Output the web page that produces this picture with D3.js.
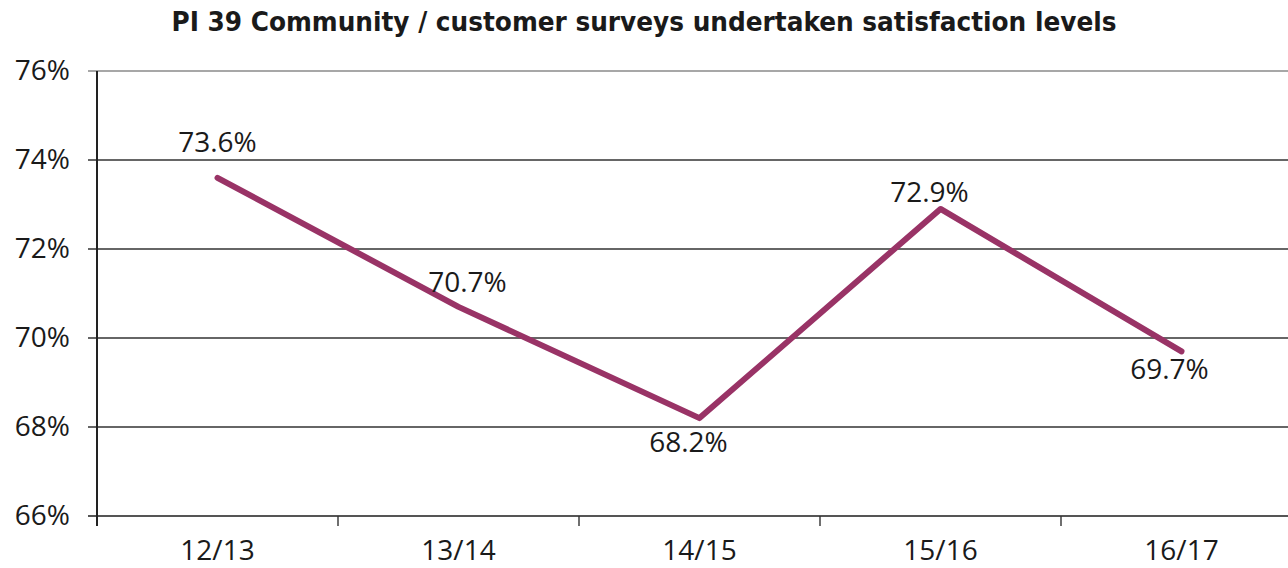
<!DOCTYPE html>
<html>
<head>
<meta charset="utf-8">
<script src="https://d3js.org/d3.v7.min.js"></script>
<style>
  body { margin: 0; background: #fff; }
  text { font-family: "Open Sans", sans-serif; fill: #1a1a1a; }
</style>
</head>
<body>
<script>
	// data
	var years = ["12/13", "13/14", "14/15", "15/16", "16/17"];
	var satisfaction = [73.6, 70.7, 68.2, 72.9, 69.7];
	var yTicks = [66, 68, 70, 72, 74, 76];

	// label nudges (px) relative to each point
	var labelDx = [0, 9, -11, -11, -12];
	var labelDy = [-26, -15, 34, -7, 28];

	var width = 1288, height = 568;
	var plotLeft = 97, plotRight = 1302, plotTop = 71, plotBottom = 516;

	var svg = d3.select("body").append("svg")
		.attr("width", width)
		.attr("height", height);

	var x = d3.scaleBand()
		.domain(years)
		.range([plotLeft, plotRight]);

	var y = d3.scaleLinear()
		.domain([66, 76])
		.range([plotBottom, plotTop]);

	// title
	svg.append("text")
		.attr("x", 644)
		.attr("y", 31)
		.attr("text-anchor", "middle")
		.attr("textLength", 945)
		.attr("lengthAdjust", "spacingAndGlyphs")
		.style("font-family", "'DejaVu Sans Condensed', 'Liberation Sans Narrow', sans-serif")
		.style("font-stretch", "condensed")
		.style("font-weight", "bold")
		.style("font-size", "27px")
		.text("PI 39 Community / customer surveys undertaken satisfaction levels");

	// gridlines
	svg.append("g").selectAll("line")
		.data(yTicks)
		.enter()
		.append("line")
		.attr("x1", plotLeft - 9)
		.attr("x2", width)
		.attr("y1", function(d){ return y(d); })
		.attr("y2", function(d){ return y(d); })
		.attr("stroke", function(d){ return d == 76 ? "#8a8a8a" : (d == 66 ? "#555" : "#333"); })
		.attr("stroke-width", function(d){ return d == 66 ? 2 : 1.4; });

	// y labels
	svg.append("g").selectAll("text")
		.data(yTicks)
		.enter()
		.append("text")
		.attr("x", 70)
		.attr("y", function(d){ return y(d); })
		.attr("dy", "0.33em")
		.attr("text-anchor", "end")
		.style("font-size", "28px")
		.text(function(d){ return d + "%"; });

	// left axis line
	svg.append("line")
		.attr("x1", plotLeft).attr("x2", plotLeft)
		.attr("y1", plotTop).attr("y2", plotBottom + 10)
		.attr("stroke", "#222")
		.attr("stroke-width", 2);

	// x ticks at band edges
	var edges = years.map(function(d){ return x(d); }).slice(1);
	svg.append("g").selectAll("line")
		.data(edges)
		.enter()
		.append("line")
		.attr("x1", function(d){ return d; })
		.attr("x2", function(d){ return d; })
		.attr("y1", plotBottom)
		.attr("y2", plotBottom + 10)
		.attr("stroke", "#333")
		.attr("stroke-width", 1.4);

	// x labels
	svg.append("g").selectAll("text")
		.data(years)
		.enter()
		.append("text")
		.attr("x", function(d){ return x(d) + x.bandwidth() / 2; })
		.attr("y", 560)
		.attr("text-anchor", "middle")
		.style("font-size", "28px")
		.text(function(d){ return d; });

	// line
	var line = d3.line()
		.x(function(d, i){ return x(years[i]) + x.bandwidth() / 2; })
		.y(function(d){ return y(d); });

	svg.append("path")
		.datum(satisfaction)
		.attr("d", line)
		.attr("fill", "none")
		.attr("stroke", "#993366")
		.attr("stroke-width", 6)
		.attr("stroke-linecap", "round")
		.attr("stroke-linejoin", "round");

	// data labels
	svg.append("g").selectAll("text")
		.data(satisfaction)
		.enter()
		.append("text")
		.attr("x", function(d, i){ return x(years[i]) + x.bandwidth() / 2 + labelDx[i]; })
		.attr("y", function(d, i){ return y(d) + labelDy[i]; })
		.attr("text-anchor", "middle")
		.style("font-size", "28px")
		.text(function(d){ return d.toFixed(1) + "%"; });
</script>
</body>
</html>
